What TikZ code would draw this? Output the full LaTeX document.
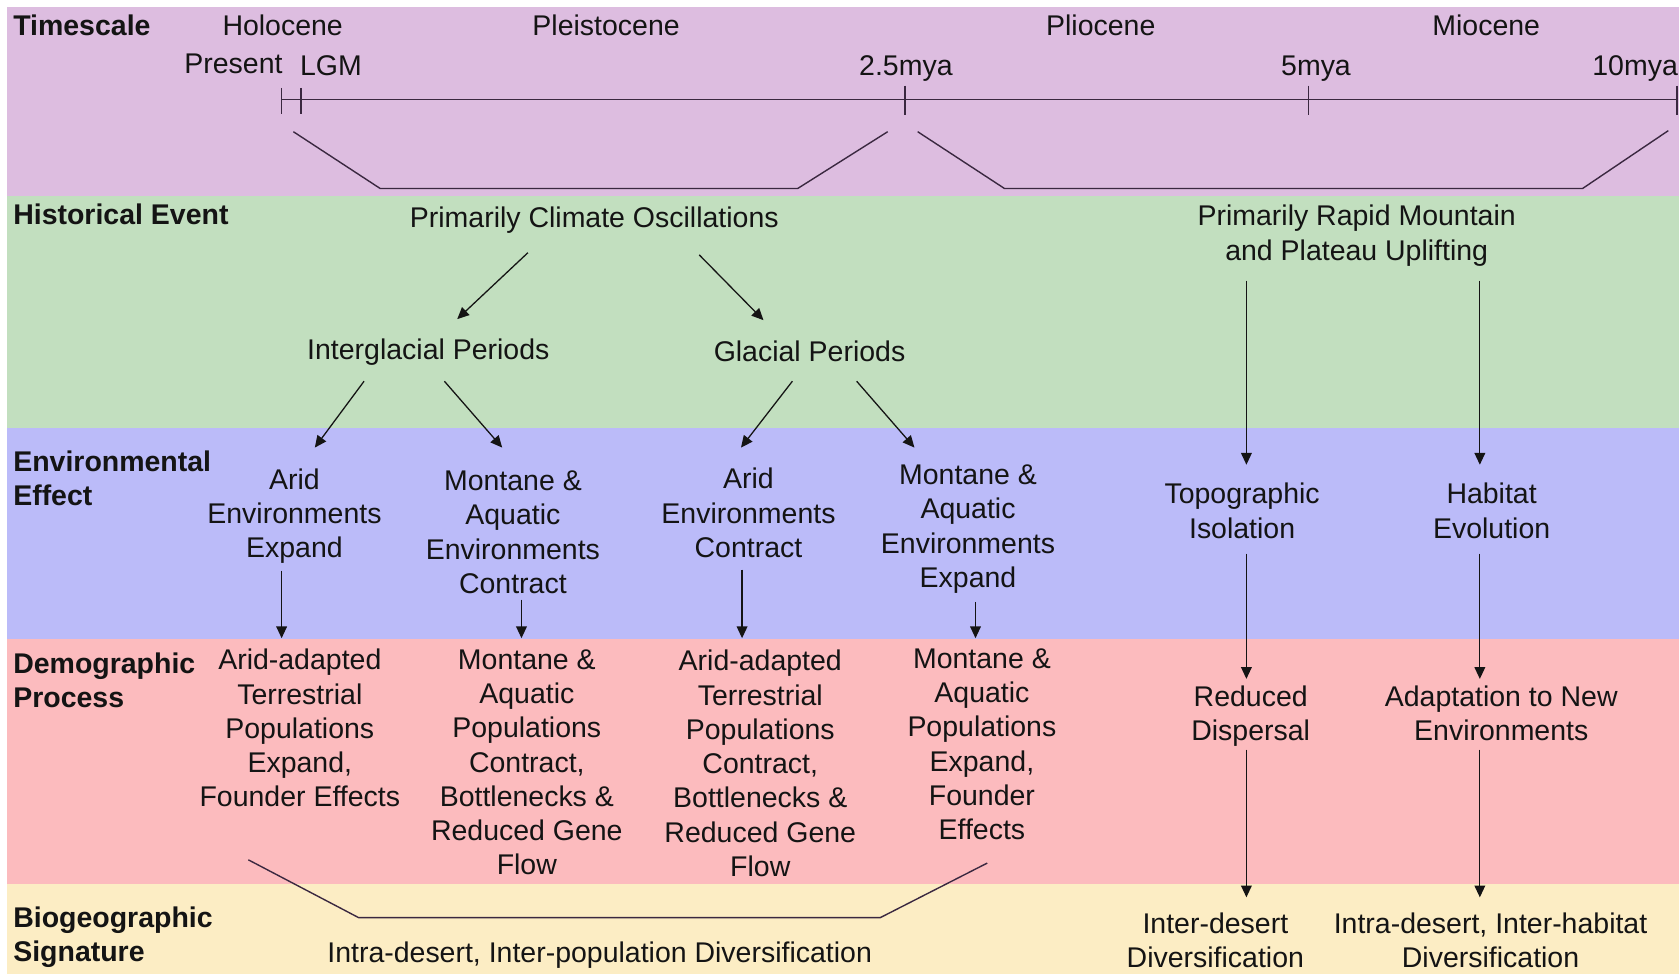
\documentclass[tikz,border=0pt]{standalone}
\usepackage{fontspec}
\setmainfont{Liberation Sans}
\usetikzlibrary{arrows.meta,calc}
\definecolor{bandTime}{HTML}{DDBDE0}
\definecolor{bandHist}{HTML}{C2DFBF}
\definecolor{bandEnv}{HTML}{BBBBF9}
\definecolor{bandDemo}{HTML}{FCBBBE}
\definecolor{bandBio}{HTML}{FCEDC4}
\definecolor{ink}{HTML}{141414}
\definecolor{rule}{HTML}{3A2840}
\begin{document}
\begin{tikzpicture}[x=0.5pt,y=-0.5pt,
  txt/.style={inner sep=0pt, align=center, text=ink, font=\fontsize{13.3pt}{16pt}\selectfont},
  lab/.style={inner sep=0pt, anchor=west, align=left, text=ink, font=\fontsize{13.3pt}{16pt}\selectfont\bfseries},
  arr/.style={draw=ink, line width=0.6pt, -{Triangle[length=5.5pt,width=5pt]}},
  tl/.style={draw=rule, line width=0.65pt},
  brace/.style={draw=rule, line width=0.65pt}]
\useasboundingbox (0,0) rectangle (1568,910);
\fill[white] (0,0) rectangle (1568,910);
% horizontal bands
\fill[bandTime] (6.5,6.5) rectangle (1568,183);
\fill[bandHist] (6.5,183) rectangle (1568,400);
\fill[bandEnv]  (6.5,400) rectangle (1568,597);
\fill[bandDemo] (6.5,597) rectangle (1568,826);
\fill[bandBio]  (6.5,826) rectangle (1568,910);

% row labels
\node[lab] (lTime) at (12,24) {Timescale};
\node[lab] (lHist) at (12,200) {Historical Event};
\node[lab] (lEnv)  at (12,447) {Environmental\\Effect};
\node[lab] (lDemo) at (12,635) {Demographic\\Process};
\node[lab] (lBio)  at (12,875) {Biogeographic\\Signature};

% epochs and time marks
\node[txt] (holo)  at (264,24) {Holocene};
\node[txt] (pleis) at (566,24) {Pleistocene};
\node[txt] (plio)  at (1028,24) {Pliocene};
\node[txt] (mio)   at (1388,24) {Miocene};
\node[txt] (pres)  at (218,60) {Present};
\node[txt] (lgm)   at (309,61) {LGM};
\node[txt] (m25)   at (846,64) {2.5mya};
\node[txt] (m5)    at (1229,64) {5mya};
\node[txt] (m10)   at (1527,64) {10mya};

% time axis
\coordinate (t0)   at (263,93);
\coordinate (tlgm) at (281,93);
\coordinate (t25)  at (845,93);
\coordinate (t5)   at (1222,93);
\coordinate (t10)  at (1566,93);
\draw[tl] (t0) -- (t10);
\draw[tl] ($(t0)+(0,-11)$) -- ($(t0)+(0,13)$);
\draw[tl] ($(tlgm)+(0,-11)$) -- ($(tlgm)+(0,13)$);
\draw[tl] ($(t25)+(0,-13)$) -- ($(t25)+(0,14)$);
\draw[tl] ($(t5)+(0,-13)$) -- ($(t5)+(0,14)$);
\draw[tl] ($(t10)+(0,-13)$) -- ($(t10)+(0,14)$);

% brackets grouping the periods
\draw[brace] (274,123) -- (355,176) -- (745,176) -- (829,123);
\draw[brace] (857,123) -- (938,176) -- (1478,176) -- (1558,122);

% historical events
\node[txt] (pco)  at (555,206) {Primarily Climate Oscillations};
\node[txt] (upl)  at (1267,220) {Primarily Rapid Mountain\\and Plateau Uplifting};
\node[txt] (inter) at (400,329) {Interglacial Periods};
\node[txt] (glac)  at (756,328) {Glacial Periods};

% environmental effects
\node[txt] (aridE) at (275,482) {Arid\\Environments\\Expand};
\node[txt] (montC) at (479,497) {Montane \&\\Aquatic\\Environments\\Contract};
\node[txt] (aridC) at (699,479) {Arid\\Environments\\Contract};
\node[txt] (montE) at (904,494) {Montane \&\\Aquatic\\Environments\\Expand};
\node[txt] (topo)  at (1160,477) {Topographic\\Isolation};
\node[txt] (hab)   at (1393,477) {Habitat\\Evolution};

% demographic processes
\node[txt] (dAE) at (280,680) {Arid-adapted\\Terrestrial\\Populations\\Expand,\\Founder Effects};
\node[txt] (dMC) at (492,712) {Montane \&\\Aquatic\\Populations\\Contract,\\Bottlenecks \&\\Reduced Gene\\Flow};
\node[txt] (dAC) at (710,713) {Arid-adapted\\Terrestrial\\Populations\\Contract,\\Bottlenecks \&\\Reduced Gene\\Flow};
\node[txt] (dME) at (917,695) {Montane \&\\Aquatic\\Populations\\Expand,\\Founder\\Effects};
\node[txt] (red)   at (1168,669) {Reduced\\Dispersal};
\node[txt] (adapt) at (1402,666) {Adaptation to New\\Environments};

% biogeographic signatures
\draw[brace] (232,803) -- (335,857) -- (822,857) -- (922,806);
\node[txt] (intraPop) at (560,892) {Intra-desert, Inter-population Diversification};
\node[txt] (interD)   at (1135,878) {Inter-desert\\Diversification};
\node[txt] (intraHab) at (1392,878) {Intra-desert, Inter-habitat\\Diversification};

% connectors
\draw[arr] ($(pco)+(-62,30)$) -- ($(inter)+(27,-31)$);
\draw[arr] ($(pco)+(98,32)$) -- ($(glac)+(-43,-29)$);
\draw[arr] ($(inter)+(-60,27)$) -- ($(aridE)+(19,-64)$);
\draw[arr] ($(inter)+(15,27)$) -- ($(montC)+(-10,-79)$);
\draw[arr] ($(glac)+(-16,28)$) -- ($(aridC)+(-7,-61)$);
\draw[arr] ($(glac)+(44,28)$) -- ($(montE)+(-50,-76)$);
\draw[arr] ($(upl)+(-103,42)$) -- ($(topo)+(4,-43)$);
\draw[arr] ($(upl)+(115,42)$) -- ($(hab)+(-11,-43)$);
\draw[arr] ($(aridE)+(-12,51)$) -- ($(dAE)+(-17,-84)$);
\draw[arr] ($(montC)+(8,63)$) -- ($(dMC)+(-5,-116)$);
\draw[arr] ($(aridC)+(-6,53)$) -- ($(dAC)+(-17,-117)$);
\draw[arr] ($(montE)+(7,68)$) -- ($(dME)+(-6,-99)$);
\draw[arr] ($(topo)+(4,40)$) -- ($(red)+(-4,-35)$);
\draw[arr] ($(hab)+(-11,40)$) -- ($(adapt)+(-20,-32)$);
\draw[arr] ($(red)+(-4,31)$) -- ($(interD)+(29,-40)$);
\draw[arr] ($(adapt)+(-20,34)$) -- ($(intraHab)+(-10,-40)$);
\end{tikzpicture}
\end{document}
